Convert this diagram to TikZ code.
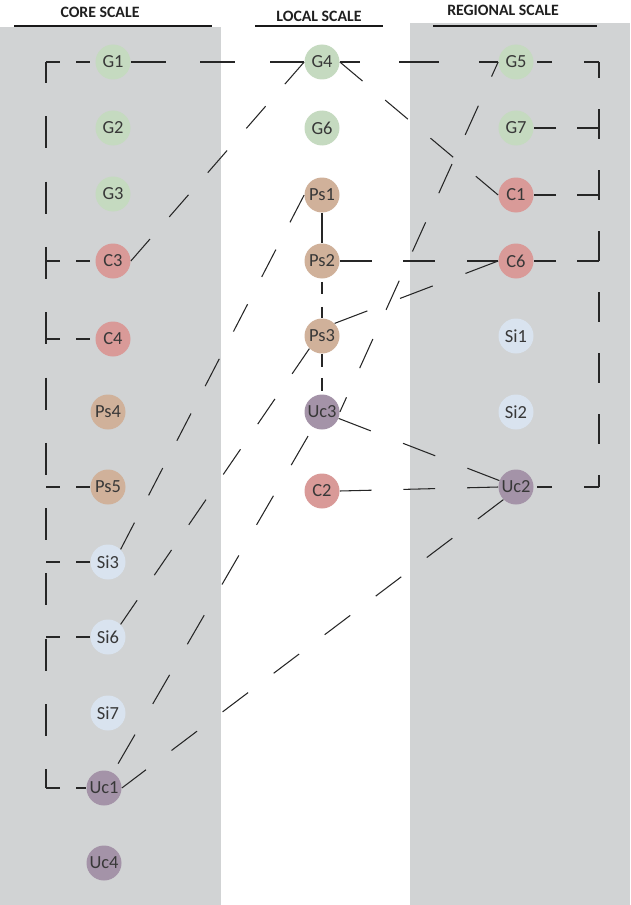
\documentclass[tikz,border=0pt]{standalone}
\usepackage{fontspec}
\setmainfont{Carlito}
\usetikzlibrary{calc, positioning}

\definecolor{panelgray}{HTML}{D1D3D4}
\definecolor{ggreen}{HTML}{C5DAC0}
\definecolor{cred}{HTML}{D99A98}
\definecolor{pstan}{HTML}{D0B19A}
\definecolor{siblue}{HTML}{D9E3EF}
\definecolor{ucpurple}{HTML}{A493A8}
\definecolor{linec}{HTML}{262626}

\begin{document}
\begin{tikzpicture}[
  font=\fontsize{10.5}{12}\selectfont,
  site/.style={circle, minimum size=7mm, inner sep=0pt, text=black!78},
  gsite/.style={site, fill=ggreen},
  csite/.style={site, fill=cred},
  pssite/.style={site, fill=pstan},
  sisite/.style={site, fill=siblue},
  ucsite/.style={site, fill=ucpurple},
  link/.style={draw=linec, line width=0.6pt, dash pattern=on #1 off #1},
  link/.default=6mm,
  header/.style={font=\bfseries\fontsize{9}{11}\selectfont, text=black!88},
  rule/.style={draw=black!90, line width=1.1pt}
]
\useasboundingbox (0,0) rectangle (12.6,-18.1);

% --- Scale panels ---
\fill[panelgray] (0,-0.54) rectangle (4.42,-18.1);
\fill[panelgray] (8.2,-0.46) rectangle (12.6,-18.1);

% --- Headings ---
\node[header] (hcore) at (2.0,-0.24) {CORE SCALE};
\draw[rule] (0.28,-0.514) -- (4.24,-0.514);
\node[header] (hlocal) at (6.38,-0.32) {LOCAL SCALE};
\draw[rule] (5.1,-0.514) -- (7.66,-0.514);
\node[header] (hregional) at (10.06,-0.21) {REGIONAL SCALE};
\draw[rule] (8.66,-0.514) -- (11.94,-0.514);

% --- Core scale sites ---
\node[gsite] (G1) at (2.26,-1.24) {G1};
\node[gsite] (G2) at (2.26,-2.56) {G2};
\node[gsite] (G3) at (2.26,-3.88) {G3};
\node[csite] (C3) at (2.26,-5.22) {C3};
\node[csite] (C4) at (2.26,-6.78) {C4};
\node[pssite] (Ps4) at (2.16,-8.24) {Ps4};
\node[pssite] (Ps5) at (2.16,-9.74) {Ps5};
\node[sisite] (Si3) at (2.16,-11.24) {Si3};
\node[sisite] (Si6) at (2.16,-12.74) {Si6};
\node[sisite] (Si7) at (2.16,-14.26) {Si7};
\node[ucsite] (Uc1) at (2.08,-15.76) {Uc1};
\node[ucsite] (Uc4) at (2.08,-17.26) {Uc4};

% --- Local scale sites ---
\node[gsite] (G4) at (6.44,-1.24) {G4};
\node[gsite] (G6) at (6.44,-2.56) {G6};
\node[pssite] (Ps1) at (6.44,-3.90) {Ps1};
\node[pssite] (Ps2) at (6.44,-5.22) {Ps2};
\node[pssite] (Ps3) at (6.44,-6.72) {Ps3};
\node[ucsite] (Uc3) at (6.44,-8.24) {Uc3};
\node[csite] (C2) at (6.44,-9.82) {C2};

% --- Regional scale sites ---
\node[gsite] (G5) at (10.32,-1.24) {G5};
\node[gsite] (G7) at (10.32,-2.56) {G7};
\node[csite] (C1) at (10.32,-3.90) {C1};
\node[csite] (C6) at (10.32,-5.22) {C6};
\node[sisite] (Si1) at (10.32,-6.72) {Si1};
\node[sisite] (Si2) at (10.32,-8.24) {Si2};
\node[ucsite] (Uc2) at (10.32,-9.74) {Uc2};

% --- Links between scales ---
\draw[link=0.696cm] (G1.east) -- (G4.west);
\draw[link=0.795cm, dash phase=0.3975cm] (G4.east) -- (G5.west);
\draw[link=0.587cm] (G4.west) -- (C3.east);
\draw[link=0.592cm] (G4.east) -- (C1.west);
\draw[link=0.64cm, dash phase=0.32cm] (G5.west) -- (Uc3.east);
\draw[link=0.7cm] (Ps1.south) -- (Ps2.north);
\draw[link, dash pattern=on 0.24cm off 0.26cm, dash phase=0.44cm] (Ps2.south) -- (Ps3.north);
\draw[link, dash pattern=on 0.26cm off 0.22cm] (Ps3.south) -- (Uc3.north);
\draw[link=0.636cm] (Ps2.east) -- (C6.west);
\draw[link=0.70cm] (Ps3.north east) -- (C6.west);
\draw[link=0.615cm] (Ps1.west) -- (Si3.north east);
\draw[link=0.61cm] (Ps3.south west) -- (Si6.north east);
\draw[link, dash pattern=on 0.672cm off 0.708cm, dash phase=1.18cm] (Uc3) -- (Uc1);
\draw[link=0.69cm] (Uc3) -- (Uc2);
\draw[link=0.636cm] (C2.east) -- (Uc2.west);
\draw[link=0.64cm] (Uc2.south west) -- (Uc1.east);

% --- Core grouping bracket ---
\coordinate (lbus) at (0.92,0);
\draw[link, dash pattern=on 0.64cm off 0.666cm, dash phase=0.22cm] (G1.west -| lbus) -- (Uc1.west -| lbus);
\draw[link=0.3cm, dash pattern=on 0.28cm off 0.32cm] (G1.west -| lbus) -- (G1.west);
\draw[link, dash pattern=on 0.28cm off 0.32cm] (C3.west -| lbus) -- (C3.west);
\draw[link, dash pattern=on 0.28cm off 0.32cm] (C4.west -| lbus) -- (C4.west);
\draw[link, dash pattern=on 0.28cm off 0.32cm] (Ps5.west -| lbus) -- (Ps5.west);
\draw[link, dash pattern=on 0.28cm off 0.32cm] (Si3.west -| lbus) -- (Si3.west);
\draw[link, dash pattern=on 0.28cm off 0.32cm] (Si6.west -| lbus) -- (Si6.west);
\draw[link, dash pattern=on 0.28cm off 0.32cm] (Uc1.west -| lbus) -- (Uc1.west);

% --- Regional grouping bracket ---
\coordinate (rbus) at (11.98,0);
\draw[link, dash pattern=on 0.6cm off 0.62cm, dash phase=0.28cm] (G5.east -| rbus) -- (Uc2.east -| rbus);
\draw[link, dash pattern=on 0.3cm off 0.64cm] (G5.east -| rbus) -- (G5.east);
\draw[link, dash pattern=on 0.44cm off 0.42cm] (G7.east -| rbus) -- (G7.east);
\draw[link, dash pattern=on 0.44cm off 0.42cm] (C1.east -| rbus) -- (C1.east);
\draw[link, dash pattern=on 0.44cm off 0.42cm] (C6.east -| rbus) -- (C6.east);
\draw[link, dash pattern=on 0.3cm off 0.64cm] (Uc2.east -| rbus) -- (Uc2.east);

\end{tikzpicture}
\end{document}
